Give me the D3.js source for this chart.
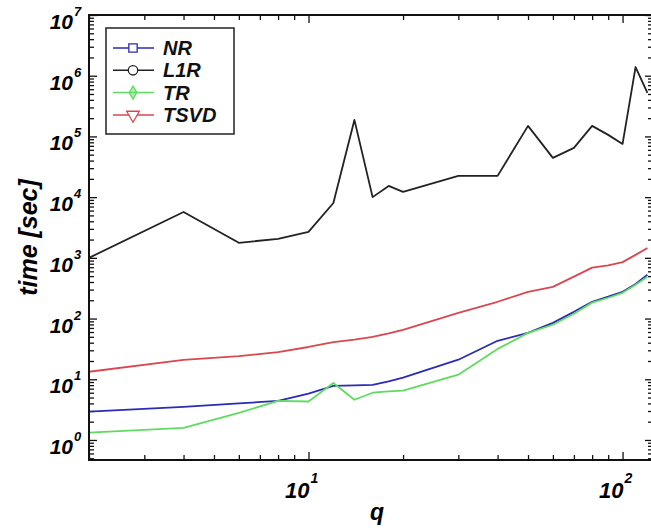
<!DOCTYPE html>
<html>
<head>
<meta charset="utf-8">
<script src="https://cdn.jsdelivr.net/npm/d3@7"></script>
<style>
  body { margin: 0; background: #fff; }
  text { font-family: "Liberation Sans", Arial, sans-serif; font-weight: bold; font-style: italic; }
</style>
</head>
<body>
<div id="chart"></div>
<script>
// data
const q = [2, 4, 6, 8, 10, 12, 14, 16, 18, 20, 30, 40, 50, 60, 70, 80, 90, 100, 110, 120];
const nrTime = [2.92, 3.5, 4.0, 4.4, 5.8, 7.8, 7.9, 8.1, 9.2, 10.6, 21, 43, 58, 85, 129, 189, 229, 276, 372, 526];
const l1rTime = [1000, 5700, 1770, 2060, 2680, 8000, 187000, 10000, 15300, 12200, 22400, 22400, 149000, 44300, 64700, 149000, 106000, 75300, 1390000, 520000];
const trTime = [1.32, 1.58, 2.8, 4.4, 4.3, 8.7, 4.6, 6.0, 6.3, 6.5, 11.9, 31.6, 58, 79, 120, 183, 220, 265, 360, 490];
const tsvdTime = [13.3, 20.9, 24, 28, 34, 41, 45, 50, 57, 65, 124, 189, 276, 332, 490, 690, 750, 850, 1120, 1450];

const seriesNames = ["NR", "L1R", "TR", "TSVD"];
const seriesColors = ["#2b2bb8", "#222222", "#5fdc5f", "#d9474f"];
const seriesMarkers = ["square", "circle", "diamond", "triangle"];

const xMajor = [10, 100];
const yMajor = [1, 10, 100, 1000, 1e4, 1e5, 1e6, 1e7];

const dimensions = {
    width: 651,
    height: 529,
    margin: { top: 15, right: -2, bottom: 69, left: 89 },
};
dimensions.boundedWidth = dimensions.width - dimensions.margin.left - dimensions.margin.right;
dimensions.boundedHeight = dimensions.height - dimensions.margin.top - dimensions.margin.bottom;

const svg = d3.select("#chart")
    .append("svg")
    .attr("width", dimensions.width)
    .attr("height", dimensions.height);

const x = d3.scaleLog()
    .domain([2, 125])
    .range([dimensions.margin.left, dimensions.margin.left + dimensions.boundedWidth]);

const y = d3.scaleLog()
    .domain([Math.pow(10, -0.33), 1e7])
    .range([dimensions.margin.top + dimensions.boundedHeight, dimensions.margin.top]);

const [x0, x1] = x.range();
const [y0, y1] = y.range();

// minor ticks 2..9 per decade
function minorTicks(scale) {
    const [a, b] = scale.domain();
    const out = [];
    for (let e = Math.floor(Math.log10(a)); e <= Math.ceil(Math.log10(b)); e++) {
        for (let k = 2; k <= 9; k++) {
            const v = k * Math.pow(10, e);
            if (v >= a && v <= b) out.push(v);
        }
    }
    return out;
}

function drawTicks(axis, transform) {
    const g = svg.append("g").attr("transform", transform).call(axis);
    g.select(".domain").remove();
    g.selectAll("line").attr("stroke", "#111").attr("stroke-width", 1.3);
    g.selectAll("text").remove();
}

// bottom / top
drawTicks(d3.axisBottom(x).tickValues(minorTicks(x)).tickSize(-5), `translate(0,${y0})`);
drawTicks(d3.axisBottom(x).tickValues(xMajor).tickSize(-8), `translate(0,${y0})`);
drawTicks(d3.axisTop(x).tickValues(minorTicks(x)).tickSize(-5), `translate(0,${y1})`);
drawTicks(d3.axisTop(x).tickValues(xMajor).tickSize(-8), `translate(0,${y1})`);
// left / right
drawTicks(d3.axisLeft(y).tickValues(minorTicks(y)).tickSize(-5), `translate(${x0},0)`);
drawTicks(d3.axisLeft(y).tickValues(yMajor).tickSize(-8), `translate(${x0},0)`);
drawTicks(d3.axisRight(y).tickValues(minorTicks(y)).tickSize(-5), `translate(${x1},0)`);
drawTicks(d3.axisRight(y).tickValues(yMajor).tickSize(-8), `translate(${x1},0)`);

// lines
const allTimes = [nrTime, l1rTime, trTime, tsvdTime];
const line = d3.line()
    .x(d => x(d[0]))
    .y(d => y(d[1]));

const plot = svg.append("g");
plot.append("clipPath").attr("id", "clip")
    .append("rect").attr("x", x0).attr("y", y1).attr("width", x1 - x0).attr("height", y0 - y1);

// draw order: L1R, TSVD, NR, TR
[1, 3, 0, 2].forEach(i => {
    plot.append("path")
        .datum(q.map((v, j) => [v, allTimes[i][j]]))
        .attr("clip-path", "url(#clip)")
        .attr("fill", "none")
        .attr("stroke", seriesColors[i])
        .attr("stroke-width", 1.8)
        .attr("stroke-linejoin", "round")
        .attr("d", line);
});

// frame
svg.append("rect")
    .attr("x", x0).attr("y", y1)
    .attr("width", x1 - x0).attr("height", y0 - y1)
    .attr("fill", "none")
    .attr("stroke", "#111")
    .attr("stroke-width", 2);

// tick labels
yMajor.forEach(v => {
    const t = svg.append("text")
        .attr("x", 73)
        .attr("y", y(v) + 14)
        .attr("text-anchor", "end")
        .style("font-size", "21px")
        .text("10");
    svg.append("text")
        .attr("x", 74)
        .attr("y", y(v) + 1)
        .style("font-size", "13px")
        .text(Math.round(Math.log10(v)));
});

xMajor.forEach(v => {
    svg.append("text")
        .attr("x", x(v) + 1)
        .attr("y", 498)
        .attr("text-anchor", "end")
        .style("font-size", "22px")
        .text("10");
    svg.append("text")
        .attr("x", x(v) + 2)
        .attr("y", 483)
        .style("font-size", "14px")
        .text(Math.round(Math.log10(v)));
});

// axis titles
svg.append("text")
    .attr("x", (x0 + x1) / 2 + 6)
    .attr("y", 520)
    .attr("text-anchor", "middle")
    .style("font-size", "23px")
    .text("q");

svg.append("text")
    .attr("transform", `translate(37, ${(y0 + y1) / 2}) rotate(-90)`)
    .attr("text-anchor", "middle")
    .style("font-size", "25px")
    .text("time [sec]");

// legend
const legend = svg.append("g");
legend.append("rect")
    .attr("x", 106).attr("y", 28)
    .attr("width", 128).attr("height", 106)
    .attr("fill", "#fff")
    .attr("stroke", "#222")
    .attr("stroke-width", 1.5);

const symbolTypes = {
    square: d3.symbolSquare,
    circle: d3.symbolCircle,
    diamond: d3.symbolDiamond,
    triangle: d3.symbolTriangle,
};

seriesNames.forEach((name, i) => {
    const cy = 48 + i * 22.3;
    legend.append("line")
        .attr("x1", 113).attr("x2", 154)
        .attr("y1", cy).attr("y2", cy)
        .attr("stroke", seriesColors[i])
        .attr("stroke-width", 1.5);
    const m = seriesMarkers[i];
    legend.append("path")
        .attr("d", d3.symbol().type(symbolTypes[m]).size(m === "diamond" ? 50 : 70)())
        .attr("transform", `translate(133,${cy})` + (m === "triangle" ? " rotate(180)" : ""))
        .attr("fill", m === "diamond" ? seriesColors[i] : "#fff")
        .attr("fill-opacity", m === "diamond" ? 0.5 : 1)
        .attr("stroke", seriesColors[i])
        .attr("stroke-width", 1.3);
    legend.append("text")
        .attr("x", 163)
        .attr("y", cy + 7)
        .style("font-size", "20px")
        .attr("fill", "#111")
        .text(name);
});
</script>
</body>
</html>
